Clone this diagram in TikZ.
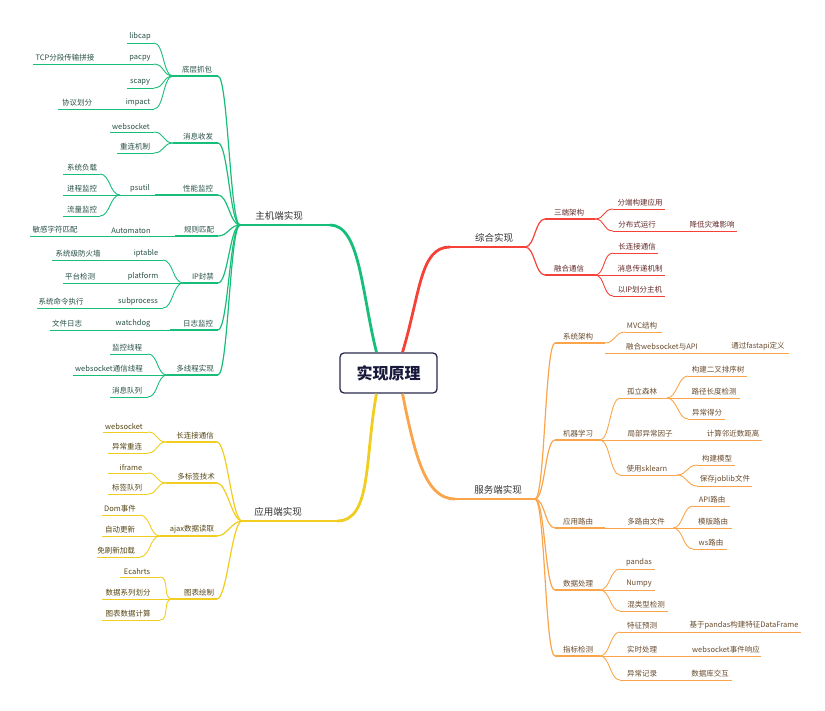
\documentclass[tikz,border=0pt]{standalone}
\usepackage{fontspec}
\setmainfont{Noto Sans CJK SC}
\usetikzlibrary{calc, positioning}

\definecolor{mmgreen}{RGB}{22,190,122}
\definecolor{mmyellow}{RGB}{240,205,30}
\definecolor{mmred}{RGB}{245,65,55}
\definecolor{mmorange}{RGB}{250,165,75}
\definecolor{gtxt}{RGB}{40,80,70}
\definecolor{ytxt}{RGB}{85,70,20}
\definecolor{rtxt}{RGB}{100,40,40}
\definecolor{otxt}{RGB}{105,75,45}
\definecolor{maintxt}{RGB}{50,50,50}
\definecolor{boxc}{RGB}{40,42,75}
\definecolor{boxtxt}{RGB}{25,25,60}

% text over its line: line opts, text opts, name, x1, x2, y, text x, text
\newcommand\mmleaf[8]{%
  \coordinate (#3-l) at (#4,#6);
  \coordinate (#3-r) at (#5,#6);
  \draw[#1] (#3-l) -- (#3-r);
  \node[#2] (#3) at (#7,#6) {#8};}
\newcommand\mmlink[3]{\draw[#1] (#2) .. controls +(10,0) and +(-10,0) .. (#3);}

\begin{document}
\begin{tikzpicture}[x=1pt,y=-1pt,
  every node/.style={anchor=south,inner xsep=0pt,inner ysep=2.5pt,font=\fontsize{7.5}{9}\selectfont},
  leaf/.style={draw=#1,line width=0.9pt},
  sub/.style={draw=#1,line width=1.2pt},
  trunk/.style={draw=#1,line width=2.2pt},
  mmtext/.style={text=#1},
  mmmain/.style={text=maintxt,font=\fontsize{9.5}{11}\selectfont,inner ysep=4.5pt},
  gl/.style={leaf=mmgreen}, gs/.style={sub=mmgreen}, gt/.style={mmtext=gtxt},
  yl/.style={leaf=mmyellow}, ys/.style={sub=mmyellow}, yt/.style={mmtext=ytxt},
  rl/.style={leaf=mmred}, rs/.style={sub=mmred}, rt/.style={mmtext=rtxt},
  ol/.style={leaf=mmorange}, os/.style={sub=mmorange}, ot/.style={mmtext=otxt}]
\useasboundingbox (0,0) rectangle (825,711);

\node[anchor=center,draw=boxc,fill=white,line width=1.3pt,rounded corners=4pt,
  minimum width=97pt,minimum height=40pt,text=boxtxt,
  font=\fontsize{16}{18}\selectfont\bfseries] (root) at (388.5,373) {实现原理};

% 主机端
\mmleaf{trunk=mmgreen}{mmmain}{host}{240}{330}{225}{279}{主机端实现}
\draw[trunk=mmgreen,line width=2.8pt] ([xshift=-12pt]root.north) .. controls +(-15,-60) and +(30,0) .. (host-r);
\mmleaf{gs}{gt}{gA}{173}{218}{76}{197}{底层抓包}
\mmleaf{gl}{gt}{gA1}{127}{154}{43}{140}{libcap}
\mmleaf{gl}{gt}{gA2}{127}{154}{64}{140}{pacpy}
\mmleaf{gl}{gt}{gA2a}{33}{127}{64}{65}{TCP分段传输拼接}
\mmleaf{gl}{gt}{gA3}{127}{154}{88}{140}{scapy}
\mmleaf{gl}{gt}{gA4}{127}{154}{109}{138}{impact}
\mmleaf{gl}{gt}{gA4a}{58}{127}{109}{77}{协议划分}
\mmleaf{gs}{gt}{gB}{173}{218}{143}{198}{消息收发}
\mmleaf{gl}{gt}{gB1}{110}{154}{132}{131}{websocket}
\mmleaf{gl}{gt}{gB2}{117}{154}{153}{135}{重连机制}
\mmleaf{gs}{gt}{gC}{155}{218}{195}{198}{性能监控}
\mmleaf{gl}{gt}{gC1}{120}{155}{195}{140}{psutil}
\mmleaf{gl}{gt}{gC1a}{63}{100}{174}{82}{系统负载}
\mmleaf{gl}{gt}{gC1b}{63}{120}{195}{82}{进程监控}
\mmleaf{gl}{gt}{gC1c}{63}{100}{216}{82}{流量监控}
\mmleaf{gs}{gt}{gD}{175}{218}{236}{199}{规则匹配}
\mmleaf{gl}{gt}{gD1}{95}{175}{236}{131}{Automaton}
\mmleaf{gl}{gt}{gD1a}{30}{95}{236}{55}{敏感字符匹配}
\mmleaf{gs}{gt}{gE}{183}{218}{283}{203}{IP封禁}
\mmleaf{gl}{gt}{gE1}{110}{163}{260}{146}{iptable}
\mmleaf{gl}{gt}{gE1a}{52}{110}{260}{78}{系统级防火墙}
\mmleaf{gl}{gt}{gE2}{110}{183}{283}{143}{platform}
\mmleaf{gl}{gt}{gE2a}{63}{110}{283}{80}{平台检测}
\mmleaf{gl}{gt}{gE3}{110}{163}{308}{138}{subprocess}
\mmleaf{gl}{gt}{gE3a}{37}{110}{308}{61}{系统命令执行}
\mmleaf{gs}{gt}{gF}{170}{218}{330}{198}{日志监控}
\mmleaf{gl}{gt}{gF1}{100}{170}{330}{133}{watchdog}
\mmleaf{gl}{gt}{gF1a}{50}{100}{330}{67}{文件日志}
\mmleaf{gs}{gt}{gG}{167}{218}{375}{195}{多线程实现}
\mmleaf{gl}{gt}{gG1}{110}{148}{354}{127}{监控线程}
\mmleaf{gl}{gt}{gG2}{73}{167}{375}{109}{websocket通信线程}
\mmleaf{gl}{gt}{gG3}{110}{148}{397}{127}{消息队列}
\foreach \s in {gA,gB,gC,gD,gE,gF,gG} \mmlink{gs}{\s-r}{host-l};
\foreach \s in {gA1,gA2,gA3,gA4} \mmlink{gl}{\s-r}{gA-l};
\foreach \s in {gB1,gB2} \mmlink{gl}{\s-r}{gB-l};
\foreach \s in {gC1a,gC1c} \mmlink{gl}{\s-r}{gC1-l};
\foreach \s in {gE1,gE3} \mmlink{gl}{\s-r}{gE-l};
\foreach \s in {gG1,gG3} \mmlink{gl}{\s-r}{gG-l};

% 应用端
\mmleaf{trunk=mmyellow}{mmmain}{app}{242}{337}{521}{278}{应用端实现}
\draw[trunk=mmyellow,line width=2.8pt] ([xshift=-12pt]root.south) .. controls +(-12,65) and +(35,0) .. (app-r);
\mmleaf{ys}{yt}{yA}{166}{217}{442}{195}{长连接通信}
\mmleaf{yl}{yt}{yA1}{103}{148}{432}{124}{websocket}
\mmleaf{yl}{yt}{yA2}{108}{148}{453}{127}{异常重连}
\mmleaf{ys}{yt}{yB}{166}{217}{483}{196}{多标签技术}
\mmleaf{yl}{yt}{yB1}{108}{148}{473}{131}{iframe}
\mmleaf{yl}{yt}{yB2}{108}{148}{494}{127}{标签队列}
\mmleaf{ys}{yt}{yC}{160}{217}{536}{192}{ajax数据读取}
\mmleaf{yl}{yt}{yC1}{102}{140}{515}{120}{Dom事件}
\mmleaf{yl}{yt}{yC2}{102}{160}{536}{120}{自动更新}
\mmleaf{yl}{yt}{yC3}{97}{140}{557}{116}{免刷新加载}
\mmleaf{ys}{yt}{yD}{172}{217}{599}{199}{图表绘制}
\mmleaf{yl}{yt}{yD1}{120}{160}{577}{137}{Ecahrts}
\mmleaf{yl}{yt}{yD2}{102}{172}{599}{128}{数据系列划分}
\mmleaf{yl}{yt}{yD3}{102}{160}{620}{128}{图表数据计算}
\foreach \s in {yA,yB,yC,yD} \mmlink{ys}{\s-r}{app-l};
\foreach \s in {yA1,yA2} \mmlink{yl}{\s-r}{yA-l};
\foreach \s in {yB1,yB2} \mmlink{yl}{\s-r}{yB-l};
\foreach \s in {yC1,yC3} \mmlink{yl}{\s-r}{yC-l};
\foreach \s in {yD1,yD3} \mmlink{yl}{\s-r}{yD-l};

% 综合
\mmleaf{trunk=mmred}{mmmain}{all}{450}{525}{247}{494}{综合实现}
\draw[trunk=mmred,line width=2.8pt] ([xshift=14pt]root.north) .. controls +(18,-60) and +(-30,0) .. (all-l);
\mmleaf{rs}{rt}{rA}{545}{595}{219}{569}{三端架构}
\mmleaf{rl}{rt}{rA1}{613}{665}{209}{640}{分端构建应用}
\mmleaf{rl}{rt}{rA2}{613}{690}{231}{637}{分布式运行}
\mmleaf{rl}{rt}{rA2a}{690}{737}{231}{712}{降低灾难影响}
\mmleaf{rs}{rt}{rB}{545}{595}{275}{569}{融合通信}
\mmleaf{rl}{rt}{rB1}{613}{658}{253}{637}{长连接通信}
\mmleaf{rl}{rt}{rB2}{595}{665}{275}{640}{消息传递机制}
\mmleaf{rl}{rt}{rB3}{613}{665}{296}{640}{以IP划分主机}
\foreach \s in {rA,rB} \mmlink{rs}{all-r}{\s-l};
\foreach \s in {rA1,rA2} \mmlink{rl}{rA-r}{\s-l};
\foreach \s in {rB1,rB3} \mmlink{rl}{rB-r}{\s-l};

% 服务端
\mmleaf{trunk=mmorange}{mmmain}{srv}{455}{535}{499}{498}{服务端实现}
\draw[trunk=mmorange,line width=2.8pt] ([xshift=14pt]root.south) .. controls +(12,60) and +(-30,0) .. (srv-l);
\mmleaf{os}{ot}{oA}{555}{605}{343}{578}{系统架构}
\mmleaf{ol}{ot}{oA1}{625}{662}{332}{642}{MVC结构}
\mmleaf{ol}{ot}{oA2}{605}{720}{353}{662}{融合websocket与API}
\mmleaf{ol}{ot}{oA2a}{720}{789}{353}{758}{通过fastapi定义}
\mmleaf{os}{ot}{oB}{555}{600}{440}{578}{机器学习}
\mmleaf{ol}{ot}{oB1}{620}{667}{398}{642}{孤立森林}
\mmleaf{ol}{ot}{oB1a}{688}{747}{376}{718}{构建二叉排序树}
\mmleaf{ol}{ot}{oB1b}{667}{740}{398}{714}{路径长度检测}
\mmleaf{ol}{ot}{oB1c}{688}{725}{419}{707}{异常得分}
\mmleaf{ol}{ot}{oB2}{600}{700}{440}{650}{局部异常因子}
\mmleaf{ol}{ot}{oB2a}{700}{762}{440}{733}{计算邻近数距离}
\mmleaf{ol}{ot}{oB3}{620}{677}{475}{647}{使用sklearn}
\mmleaf{ol}{ot}{oB3a}{697}{735}{465}{717}{构建模型}
\mmleaf{ol}{ot}{oB3b}{697}{752}{486}{725}{保存joblib文件}
\mmleaf{os}{ot}{oC}{555}{605}{528}{578}{应用路由}
\mmleaf{ol}{ot}{oC1}{605}{673}{528}{646}{多路由文件}
\mmleaf{ol}{ot}{oC1a}{693}{730}{506}{712}{API路由}
\mmleaf{ol}{ot}{oC1b}{673}{732}{528}{713}{模版路由}
\mmleaf{ol}{ot}{oC1c}{693}{727}{549}{711}{ws路由}
\mmleaf{os}{ot}{oD}{555}{600}{590}{578}{数据处理}
\mmleaf{ol}{ot}{oD1}{620}{655}{569}{639}{pandas}
\mmleaf{ol}{ot}{oD2}{600}{655}{590}{639}{Numpy}
\mmleaf{ol}{ot}{oD3}{620}{668}{611}{646}{混类型检测}
\mmleaf{os}{ot}{oE}{555}{600}{656}{578}{指标检测}
\mmleaf{ol}{ot}{oE1}{620}{690}{632}{642}{特征预测}
\mmleaf{ol}{ot}{oE1a}{690}{801}{632}{744}{基于pandas构建特征DataFrame}
\mmleaf{ol}{ot}{oE2}{600}{690}{656}{642}{实时处理}
\mmleaf{ol}{ot}{oE2a}{690}{761}{656}{726}{websocket事件响应}
\mmleaf{ol}{ot}{oE3}{620}{690}{680}{642}{异常记录}
\mmleaf{ol}{ot}{oE3a}{690}{732}{680}{710}{数据库交互}
\foreach \s in {oA,oB,oC,oD,oE} \mmlink{os}{srv-r}{\s-l};
\mmlink{ol}{oA-r}{oA1-l}
\foreach \s in {oB1,oB3} \mmlink{ol}{oB-r}{\s-l};
\foreach \s in {oB1a,oB1c} \mmlink{ol}{oB1-r}{\s-l};
\foreach \s in {oB3a,oB3b} \mmlink{ol}{oB3-r}{\s-l};
\foreach \s in {oC1a,oC1c} \mmlink{ol}{oC1-r}{\s-l};
\foreach \s in {oD1,oD3} \mmlink{ol}{oD-r}{\s-l};
\foreach \s in {oE1,oE3} \mmlink{ol}{oE-r}{\s-l};
\end{tikzpicture}
\end{document}
